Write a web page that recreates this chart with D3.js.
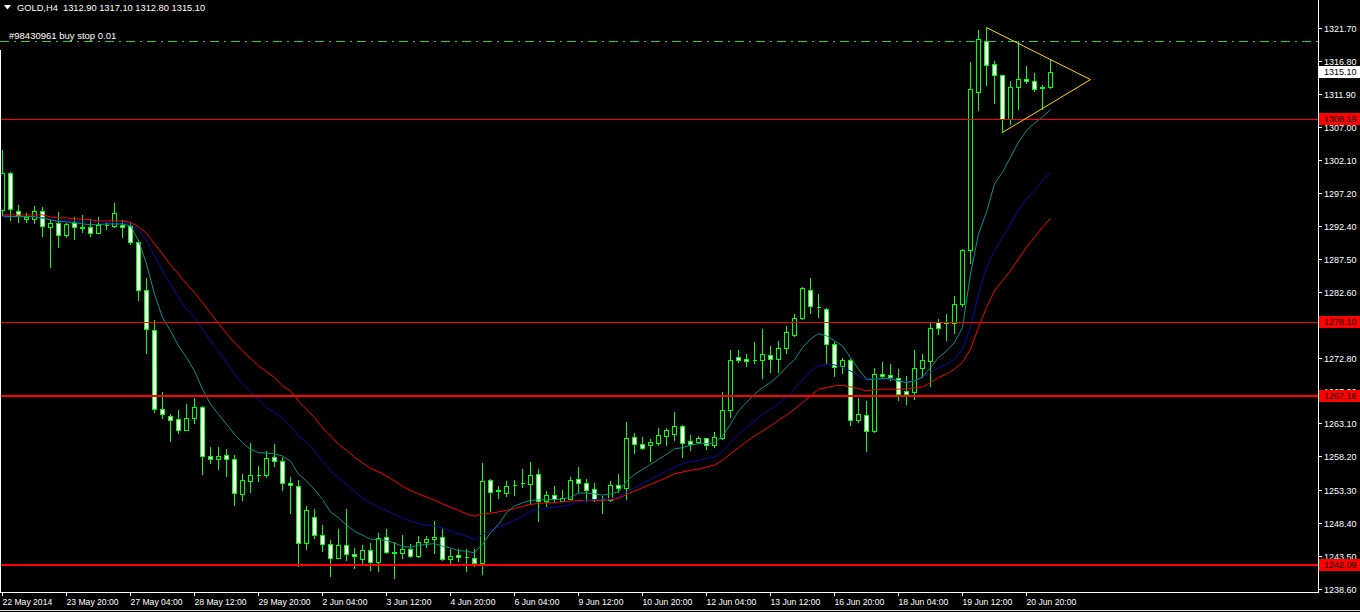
<!DOCTYPE html>
<html>
<head>
<meta charset="utf-8">
<script src="https://cdn.jsdelivr.net/npm/d3@7"></script>
<style>
html,body{margin:0;padding:0;background:#000;}
svg{display:block;}
text{font-family:"Liberation Sans",Arial,sans-serif;}
</style>
</head>
<body>
<svg id="chart" width="1360" height="612"></svg>
<script>
// ---------- DATA ----------
const symbolTitle = "GOLD,H4";
const lastOHLC = ["1312.90", "1317.10", "1312.80", "1315.10"];
const orderLabel = "#98430961 buy stop 0.01";
const buyStopPrice = 1319.8;
const bidPrice = 1315.10;
const priceLevels = [1308.19, 1278.10, 1267.16, 1242.09];
const priceLevelWidths = [1, 1, 2, 2];

const open = [
1294.70,1300.19,1294.55,1293.36,1293.41,1294.50,1292.22,1292.72,1291.03,1292.81,
1292.10,1292.13,1291.33,1292.52,1292.32,1292.43,1292.32,1289.95,1282.82,1276.99,
1265.27,1264.23,1263.73,1262.15,1263.93,1265.51,1258.29,1257.89,1258.44,1257.78,
1252.65,1254.52,1255.41,1255.41,1258.14,1257.59,1254.33,1253.84,1245.32,1249.24,
1246.57,1245.23,1243.16,1245.09,1243.75,1242.95,1244.34,1242.56,1246.27,1244.09,
1243.84,1244.49,1243.45,1245.53,1245.92,1246.32,1242.95,1243.65,1243.35,1243.16,
1242.36,1254.73,1253.14,1252.74,1253.93,1254.23,1254.14,1255.62,1251.56,1252.45,
1251.66,1251.96,1254.82,1254.23,1253.34,1251.85,1251.76,1253.93,1253.55,1261.05,
1260.07,1259.87,1260.27,1261.26,1261.57,1262.76,1260.47,1260.38,1260.97,1259.87,
1260.97,1265.12,1272.93,1272.63,1272.44,1272.44,1273.22,1272.63,1274.32,1276.19,
1278.77,1282.93,1280.35,1280.05,1274.91,1271.65,1272.54,1263.64,1264.32,1261.95,
1270.47,1270.26,1269.77,1267.88,1267.79,1271.35,1272.34,1278.07,1278.18,1277.97,
1280.75,1288.76,1312.21,1319.73,1316.36,1314.69,1308.25,1312.91,1314.09,1313.89,
1312.76,1312.90];
const high = [
1303.60,1300.34,1295.44,1294.25,1295.29,1295.19,1293.36,1294.40,1292.81,1293.70,
1293.91,1293.41,1293.61,1292.92,1295.69,1293.21,1292.92,1290.24,1284.71,1278.48,
1267.69,1264.53,1265.02,1266.01,1266.90,1265.71,1259.67,1259.67,1259.38,1258.49,
1255.62,1260.27,1256.81,1258.97,1260.07,1258.18,1255.22,1254.73,1250.87,1250.43,
1248.10,1245.83,1247.50,1250.47,1244.64,1245.03,1245.32,1246.81,1247.40,1245.47,
1246.61,1245.23,1246.47,1246.47,1248.69,1247.50,1244.49,1244.43,1244.43,1244.49,
1257.30,1254.88,1253.84,1254.63,1254.73,1256.41,1257.41,1256.41,1253.14,1253.84,
1253.25,1255.22,1256.70,1254.82,1254.33,1252.36,1254.52,1255.62,1263.34,1261.75,
1261.15,1260.76,1262.35,1262.35,1264.73,1262.80,1261.35,1261.26,1261.01,1261.86,
1267.69,1274.02,1273.92,1273.33,1275.21,1277.01,1274.62,1275.31,1277.59,1279.26,
1283.31,1284.61,1282.33,1280.15,1275.11,1272.73,1272.63,1266.80,1266.40,1271.25,
1272.14,1271.85,1271.14,1270.16,1273.92,1273.43,1278.18,1278.57,1279.26,1281.93,
1288.91,1316.66,1321.41,1321.81,1316.85,1314.73,1313.80,1319.73,1316.07,1315.07,
1313.20,1317.10];
const low = [
1293.95,1293.21,1292.92,1292.92,1292.81,1290.84,1286.28,1289.25,1290.74,1290.44,
1291.47,1290.84,1291.24,1291.92,1292.22,1290.74,1289.65,1281.44,1273.52,1264.76,
1263.93,1260.46,1261.75,1262.05,1263.13,1255.62,1257.19,1256.30,1255.32,1250.96,
1251.76,1252.95,1254.52,1255.12,1256.85,1253.24,1249.78,1241.97,1244.43,1246.12,
1244.14,1240.57,1243.10,1242.90,1241.68,1242.46,1241.38,1241.27,1243.84,1240.19,
1243.16,1243.35,1243.25,1244.73,1243.84,1242.86,1242.36,1242.76,1241.27,1241.97,
1240.78,1250.07,1252.06,1252.36,1252.55,1253.64,1251.17,1248.69,1250.87,1251.66,
1251.56,1251.85,1252.95,1251.66,1251.66,1249.78,1251.66,1252.95,1251.85,1258.68,
1259.27,1257.52,1259.97,1259.87,1260.58,1258.09,1259.09,1260.17,1259.32,1259.57,
1260.86,1264.02,1272.14,1271.55,1272.04,1269.84,1270.75,1270.75,1273.52,1276.00,
1278.57,1279.46,1278.86,1272.04,1270.16,1270.53,1262.84,1263.24,1258.97,1261.86,
1269.87,1269.47,1266.50,1266.01,1266.69,1269.96,1268.58,1276.40,1275.51,1276.49,
1280.55,1286.88,1309.54,1313.29,1310.53,1306.27,1307.46,1309.64,1313.59,1312.40,
1309.73,1312.80];
const close = [
1300.19,1294.84,1293.95,1293.66,1294.50,1292.32,1292.72,1290.94,1292.62,1292.13,
1292.17,1291.33,1292.52,1292.55,1294.21,1292.22,1289.95,1282.93,1277.14,1265.27,
1264.53,1263.64,1262.15,1263.93,1265.51,1258.29,1257.84,1258.33,1257.84,1252.85,
1254.73,1255.52,1255.44,1257.99,1257.55,1254.33,1254.03,1245.32,1250.28,1246.57,
1245.23,1243.16,1245.09,1243.75,1243.45,1244.34,1242.56,1246.12,1244.05,1243.84,
1244.49,1243.45,1245.53,1246.02,1246.32,1242.95,1243.45,1243.35,1243.25,1242.36,
1254.63,1252.95,1253.19,1253.84,1253.96,1254.26,1255.52,1251.56,1252.55,1251.85,
1252.06,1254.73,1254.33,1253.25,1251.85,1251.88,1254.03,1253.55,1260.96,1260.07,
1259.48,1260.37,1261.45,1262.05,1262.76,1260.18,1260.08,1260.97,1259.87,1261.06,
1265.12,1272.54,1272.54,1272.34,1272.47,1273.33,1272.63,1274.21,1276.69,1278.77,
1283.11,1280.45,1280.38,1274.81,1271.44,1272.44,1263.64,1264.42,1261.95,1270.47,
1270.17,1269.96,1267.49,1267.49,1271.35,1272.44,1277.29,1277.29,1277.97,1280.75,
1288.76,1312.61,1320.03,1316.17,1314.69,1308.25,1312.91,1314.18,1313.80,1312.61,
1312.95,1315.10];

// moving averages
const maFast = [
1293.91,1293.81,1293.81,1293.81,1293.81,1293.61,1293.32,1293.11,1293.02,1292.92,
1292.72,1292.62,1292.62,1292.72,1292.72,1292.72,1292.43,1290.24,1286.79,1282.33,
1278.86,1276.89,1274.66,1272.93,1270.95,1268.24,1266.01,1264.53,1263.05,1261.56,
1260.31,1259.33,1258.83,1258.79,1258.68,1258.34,1257.59,1255.62,1254.63,1253.40,
1251.91,1250.07,1249.18,1248.10,1247.21,1246.62,1246.02,1245.98,1245.83,1245.47,
1244.94,1244.84,1245.13,1245.23,1245.38,1244.98,1244.73,1244.34,1244.24,1243.99,
1245.28,1246.96,1248.20,1249.93,1250.92,1251.41,1251.76,1251.85,1251.85,1251.91,
1251.96,1252.25,1252.85,1252.85,1252.74,1252.55,1252.74,1253.04,1254.63,1255.62,
1256.36,1257.11,1257.85,1258.59,1259.42,1259.57,1259.97,1260.17,1260.17,1260.31,
1261.31,1263.05,1265.02,1266.25,1267.49,1268.47,1269.22,1270.21,1271.55,1272.58,
1274.41,1275.66,1276.49,1276.15,1275.41,1274.66,1272.93,1271.21,1269.72,1269.72,
1269.81,1269.81,1269.47,1269.22,1269.47,1270.06,1271.45,1272.93,1273.92,1275.15,
1277.38,1285.30,1291.24,1294.45,1298.66,1300.38,1302.61,1304.83,1306.57,1307.65,
1308.54,1309.64];
const maMid = [
1293.70,1293.76,1293.81,1293.81,1293.81,1293.61,1293.41,1293.21,1293.21,1293.21,
1293.02,1293.02,1293.02,1292.92,1292.92,1292.92,1292.72,1291.83,1290.24,1288.02,
1285.79,1283.82,1281.83,1280.11,1278.86,1277.14,1275.41,1273.92,1272.19,1270.47,
1268.98,1267.88,1266.75,1265.57,1264.76,1263.93,1262.79,1261.31,1260.31,1259.09,
1257.59,1256.11,1255.12,1254.14,1253.14,1252.11,1251.37,1250.77,1250.28,1249.69,
1249.18,1248.69,1248.29,1248.10,1247.95,1247.70,1247.21,1246.81,1246.47,1245.97,
1246.72,1247.31,1247.80,1248.29,1248.79,1249.43,1250.18,1250.43,1250.58,1250.77,
1250.92,1251.17,1251.56,1251.76,1251.91,1251.96,1252.06,1252.25,1253.04,1253.64,
1254.23,1254.88,1255.52,1256.11,1256.71,1257.20,1257.49,1257.70,1258.00,1258.19,
1259.08,1260.31,1261.56,1262.54,1263.53,1264.53,1265.27,1266.10,1267.10,1268.28,
1269.57,1270.95,1271.70,1271.95,1271.85,1271.45,1270.95,1270.21,1269.57,1269.72,
1269.77,1269.72,1269.47,1269.37,1269.47,1269.96,1270.70,1271.44,1271.95,1272.69,
1274.17,1277.38,1282.33,1286.28,1288.76,1290.74,1292.72,1294.70,1296.43,1297.67,
1299.15,1300.38];
const maSlow = [
1294.06,1294.06,1294.06,1294.06,1294.06,1294.06,1293.76,1293.61,1293.61,1293.46,
1293.46,1293.32,1293.17,1293.17,1293.17,1293.17,1292.96,1292.32,1291.33,1289.76,
1288.27,1286.68,1285.30,1283.82,1282.57,1281.09,1279.46,1277.97,1276.49,1275.15,
1273.92,1272.84,1271.70,1270.85,1269.96,1268.73,1267.99,1266.50,1265.27,1264.02,
1262.54,1261.31,1260.08,1259.18,1258.19,1257.34,1256.51,1256.01,1255.37,1254.63,
1253.88,1253.25,1252.74,1252.25,1251.81,1251.26,1250.77,1250.28,1249.77,1249.43,
1249.77,1249.88,1250.07,1250.28,1250.58,1250.87,1251.17,1251.32,1251.41,1251.47,
1251.56,1251.66,1251.76,1251.76,1251.76,1251.76,1251.85,1252.06,1252.65,1253.14,
1253.64,1254.14,1254.63,1255.12,1255.71,1255.97,1256.22,1256.41,1256.71,1257.00,
1257.70,1258.68,1259.57,1260.46,1261.31,1262.05,1262.79,1263.64,1264.42,1265.27,
1266.25,1267.24,1268.24,1268.47,1268.73,1268.83,1268.58,1268.33,1267.99,1268.18,
1268.24,1268.24,1268.24,1268.28,1268.47,1268.58,1269.22,1269.96,1270.47,1271.21,
1272.19,1274.17,1277.38,1280.35,1282.82,1284.31,1285.79,1287.53,1289.25,1290.74,
1292.22,1293.55];

const yTickLabels = ["1321.70","1316.80","1311.90","1307.00","1302.10","1297.20","1292.40","1287.50","1282.60",
  "1277.70","1272.80","1267.90","1263.10","1258.20","1253.30","1248.40","1243.50","1238.60"];
const xTickLabels = ["22 May 2014","23 May 20:00","27 May 04:00","28 May 12:00","29 May 20:00","2 Jun 04:00",
  "3 Jun 12:00","4 Jun 20:00","6 Jun 04:00","9 Jun 12:00","10 Jun 20:00","12 Jun 04:00","13 Jun 12:00",
  "16 Jun 20:00","18 Jun 04:00","19 Jun 12:00","20 Jun 20:00"];
const xTickStep = 8;
// triangle drawing object (bar index, price)
const triangleIdx = [123, 136, 125];
const trianglePrice = [1321.81, 1314.10, 1306.27];

// ---------- LAYOUT ----------
const W = 1360, H = 612;
const plotRight = 1318, plotBottom = 592;
const svg = d3.select("#chart");
svg.append("rect").attr("width", W).attr("height", H).attr("fill", "#000");

const x = d3.scaleLinear().domain([0, 131]).range([2, 1050]);
const y = d3.scaleLinear().domain([1238.60, 1321.70]).range([588.8, 27.8]);
const px = i => Math.round(x(i)) + 0.5;
const py = v => Math.round(y(v)) + 0.5;

const plot = svg.append("g");
svg.append("clipPath").attr("id", "clip").append("rect")
  .attr("x", 0).attr("y", 0).attr("width", plotRight).attr("height", plotBottom);
plot.attr("clip-path", "url(#clip)");

const bars = d3.range(open.length).map(i => ({i, o: open[i], h: high[i], l: low[i], c: close[i]}));
const green = "#00ff00";

// wicks
plot.append("g").selectAll("line").data(bars).join("line")
  .attr("x1", d => px(d.i)).attr("x2", d => px(d.i))
  .attr("y1", d => py(d.h) - 0.5).attr("y2", d => py(d.l) + 0.5)
  .attr("stroke", green).attr("stroke-width", 1).attr("shape-rendering", "crispEdges");
// bodies
plot.append("g").selectAll("path").data(bars).join("path")
  .attr("d", d => {
    const x0 = px(d.i) - 2, x1 = px(d.i) + 2;
    const y0 = py(Math.max(d.o, d.c)), y1 = py(Math.min(d.o, d.c));
    return `M${x0},${y0}H${x1}V${y1}H${x0}Z`;
  })
  .attr("fill", d => d.c >= d.o ? "#000" : "#fff")
  .attr("stroke", green).attr("stroke-width", 1).attr("shape-rendering", "crispEdges");

// moving averages
const line = d3.line().x((d, i) => x(i) + 0.5).y(d => y(d) + 0.5);
[[maSlow, "#ff0000"], [maMid, "#0a0aa8"], [maFast, "#0b8f8f"]].forEach(([arr, col]) => {
  plot.append("path").datum(arr).attr("d", line).attr("fill", "none")
    .attr("stroke", col).attr("stroke-width", 1);
});

// horizontal price levels
priceLevels.forEach((p, k) => {
  const yy = priceLevelWidths[k] === 2 ? Math.round(y(p)) : py(p);
  plot.append("line").attr("x1", 0).attr("x2", plotRight).attr("y1", yy).attr("y2", yy)
    .attr("stroke", "#ff0000").attr("stroke-width", priceLevelWidths[k]).attr("shape-rendering", "crispEdges");
});

// buy stop dashed line
plot.append("line").attr("x1", 0).attr("x2", plotRight)
  .attr("y1", py(buyStopPrice)).attr("y2", py(buyStopPrice))
  .attr("stroke", "#32cd32").attr("stroke-width", 1).attr("stroke-dasharray", "9,5,2,5")
  .attr("shape-rendering", "crispEdges");
plot.append("text").attr("x", 9).attr("y", py(buyStopPrice) - 3)
  .attr("fill", "#fff").attr("font-size", 9.5).text(orderLabel);

// triangle object
plot.append("path")
  .datum(triangleIdx.map((t, k) => [x(t) + 0.5, y(trianglePrice[k]) + 0.5]))
  .attr("d", d3.line()).attr("fill", "none").attr("stroke", "#ffd700").attr("stroke-width", 1);

// frame
svg.append("line").attr("x1", plotRight + 0.5).attr("x2", plotRight + 0.5).attr("y1", 0).attr("y2", plotBottom + 1)
  .attr("stroke", "#fff").attr("shape-rendering", "crispEdges");
svg.append("line").attr("x1", 0).attr("x2", plotRight + 1).attr("y1", plotBottom + 0.5).attr("y2", plotBottom + 0.5)
  .attr("stroke", "#fff").attr("shape-rendering", "crispEdges");
svg.append("line").attr("x1", 0.5).attr("x2", 0.5).attr("y1", 50).attr("y2", plotBottom)
  .attr("stroke", "#fff").attr("shape-rendering", "crispEdges");
svg.append("line").attr("x1", 0).attr("x2", W).attr("y1", 610.5).attr("y2", 610.5)
  .attr("stroke", "#ddd").attr("shape-rendering", "crispEdges");

// right price axis
const yAxisG = svg.append("g");
yTickLabels.forEach(t => {
  const v = +t;
  const yy = py(v);
  yAxisG.append("line").attr("x1", plotRight).attr("x2", plotRight + 4).attr("y1", yy).attr("y2", yy)
    .attr("stroke", "#fff").attr("shape-rendering", "crispEdges");
  // a label that a price-level box covers completely is not drawn (hidden in the terminal too)
  const hidden = priceLevels.some(p => Math.abs(y(p) - y(v)) < 4);
  if (!hidden) {
    yAxisG.append("text").attr("x", 1324).attr("y", yy).attr("dy", "0.35em")
      .attr("fill", "#fff").attr("font-size", 9).text(t);
  }
});
// price level labels
priceLevels.forEach(p => {
  const yy = Math.round(y(p));
  yAxisG.append("rect").attr("x", 1319).attr("y", yy - 6).attr("width", 41).attr("height", 12).attr("fill", "#ff0000");
  yAxisG.append("text").attr("x", 1324).attr("y", yy).attr("dy", "0.35em")
    .attr("fill", "#000").attr("font-size", 9).text(p.toFixed(2));
});
{
  const yy = Math.round(y(bidPrice));
  yAxisG.append("rect").attr("x", 1319).attr("y", yy - 6).attr("width", 41).attr("height", 12).attr("fill", "#fff");
  yAxisG.append("text").attr("x", 1324).attr("y", yy).attr("dy", "0.35em")
    .attr("fill", "#000").attr("font-size", 9).text(bidPrice.toFixed(2));
}

// bottom time axis
const xAxisG = svg.append("g");
xTickLabels.forEach((t, k) => {
  const xx = px(k * xTickStep);
  xAxisG.append("line").attr("x1", xx).attr("x2", xx).attr("y1", plotBottom).attr("y2", plotBottom + 4)
    .attr("stroke", "#fff").attr("shape-rendering", "crispEdges");
  xAxisG.append("text").attr("x", xx).attr("y", 605)
    .attr("fill", "#fff").attr("font-size", 8.6).text(t);
});

// title
svg.append("path").attr("d", "M4,5H11L7.5,9.5Z").attr("fill", "#fff");
svg.append("text").attr("x", 17).attr("y", 10.5).attr("fill", "#fff").attr("font-size", 9.3)
  .attr("xml:space", "preserve")
  .text(symbolTitle + "  " + lastOHLC.join(" "));
</script>
</body>
</html>
